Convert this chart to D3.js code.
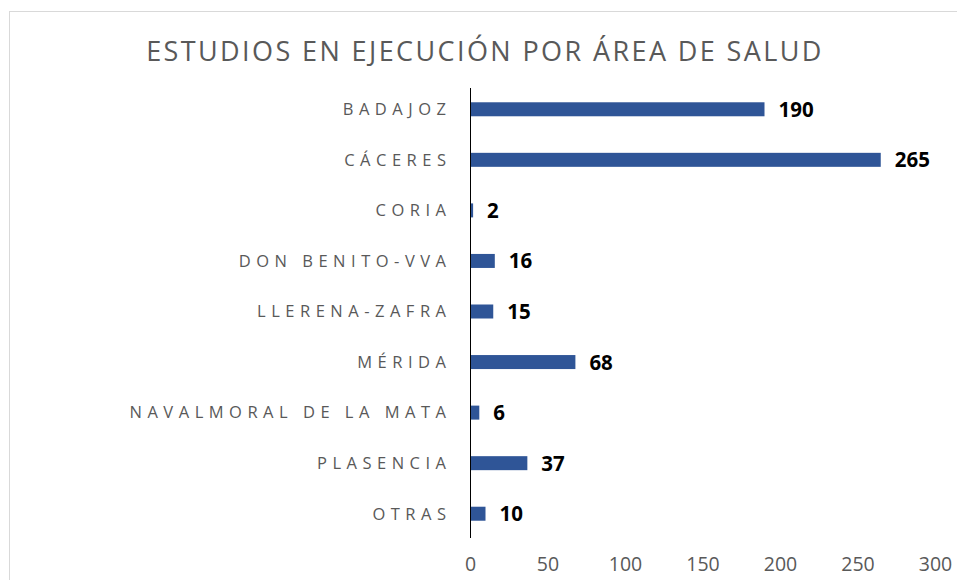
<!DOCTYPE html>
<html>
<head>
<meta charset="utf-8">
<script src="https://cdn.jsdelivr.net/npm/d3@7"></script>
<style>
  html, body { margin: 0; padding: 0; background: #fff; }
  svg { display: block; }
</style>
</head>
<body>
<svg id="chart" width="957" height="580"></svg>
<script>
const title = "ESTUDIOS EN EJECUCIÓN POR ÁREA DE SALUD";
const categories = ["BADAJOZ", "CÁCERES", "CORIA", "DON BENITO-VVA", "LLERENA-ZAFRA", "MÉRIDA", "NAVALMORAL DE LA MATA", "PLASENCIA", "OTRAS"];
const values = [190, 265, 2, 16, 15, 68, 6, 37, 10];
const xTicks = [0, 50, 100, 150, 200, 250, 300];

const svg = d3.select("#chart");

// chart border
svg.append("rect")
  .attr("x", 9.5).attr("y", 11.5)
  .attr("width", 1000).attr("height", 1000)
  .attr("fill", "none").attr("stroke", "#d9d9d9").attr("stroke-width", 1);

svg.append("text")
  .attr("x", 485).attr("y", 61)
  .attr("text-anchor", "middle")
  .attr("font-family", "'Open Sans', sans-serif")
  .attr("font-size", 27)
  .attr("letter-spacing", 2.4)
  .attr("fill", "#595959")
  .text(title);

const x = d3.scaleLinear().domain([0, 300]).range([470, 935]);
const y = d3.scaleBand().domain(categories).range([84, 539]).paddingInner(0.72).paddingOuter(0.36);

// bars
svg.append("g").selectAll("rect")
  .data(values)
  .join("rect")
  .attr("x", x(0))
  .attr("y", (d, i) => y(categories[i]) + y.bandwidth() / 2 - 7)
  .attr("width", d => x(d) - x(0))
  .attr("height", 14)
  .attr("fill", "#2f5597");

// value labels
svg.append("g").selectAll("text")
  .data(values)
  .join("text")
  .attr("x", d => x(d) + 14)
  .attr("y", (d, i) => y(categories[i]) + y.bandwidth() / 2 + 7.5)
  .attr("font-family", "'Open Sans', sans-serif")
  .attr("font-weight", "bold")
  .attr("font-size", 20.5)
  .attr("fill", "#000")
  .text(d => d);

// y axis
const yAxis = d3.axisLeft(y).tickSize(0).tickPadding(0);
const gy = svg.append("g").attr("transform", `translate(${x(0) + 0.5},0)`).call(yAxis);
gy.select(".domain").attr("d", `M0,88V538`).attr("stroke", "#000").attr("stroke-width", 1);
gy.selectAll(".tick text")
  .attr("x", -19)
  .attr("dy", "0.35em")
  .attr("font-family", "'Open Sans', sans-serif")
  .attr("font-size", 16.5)
  .attr("letter-spacing", 5.5)
  .attr("fill", "#595959");

// x axis (labels only)
const xAxis = d3.axisBottom(x).tickValues(xTicks).tickSize(0).tickPadding(0);
const gx = svg.append("g").attr("transform", `translate(0,555)`).call(xAxis);
gx.select(".domain").remove();
gx.selectAll(".tick text")
  .attr("dy", "0.71em")
  .attr("y", 2)
  .attr("font-family", "'Open Sans', sans-serif")
  .attr("font-size", 19.5)
  .attr("fill", "#595959");
</script>
</body>
</html>
